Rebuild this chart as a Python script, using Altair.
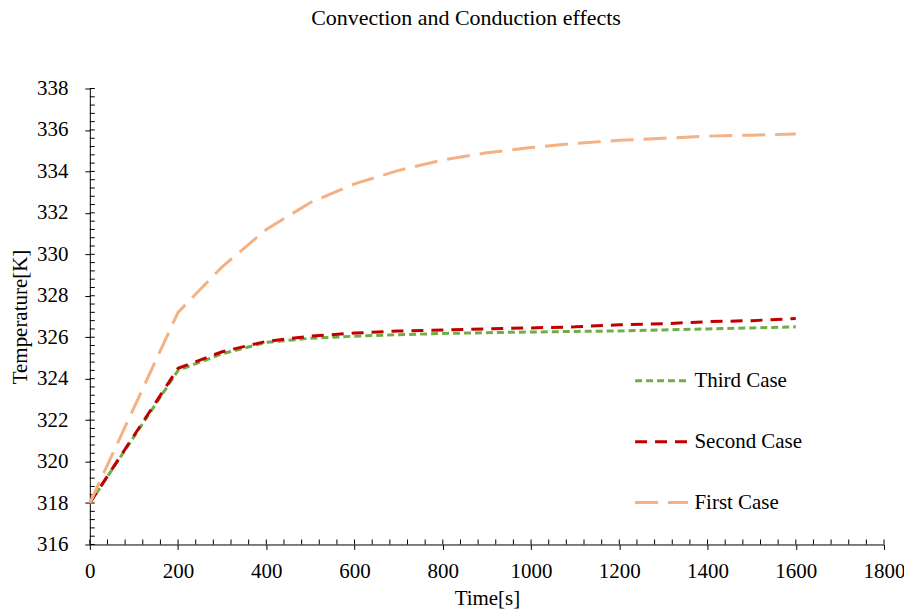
import altair as alt
import pandas as pd

times = [0, 200, 300, 400, 500, 600, 700, 800, 900, 1000, 1100, 1200, 1300, 1400, 1500, 1600]
temp_first = [318, 327.2, 329.4, 331.2, 332.5, 333.4, 334.05, 334.55, 334.9, 335.15, 335.35, 335.5, 335.6, 335.7, 335.75, 335.8]
temp_second = [318, 324.5, 325.3, 325.8, 326.05, 326.2, 326.3, 326.35, 326.4, 326.45, 326.5, 326.6, 326.65, 326.75, 326.8, 326.9]
temp_third = [318, 324.4, 325.2, 325.75, 325.95, 326.05, 326.12, 326.18, 326.22, 326.25, 326.28, 326.3, 326.35, 326.4, 326.45, 326.5]

case_names = ["Third Case", "Second Case", "First Case"]
case_colors = ["#70AD47", "#C00000", "#F4B183"]
case_dashes = [[7, 4], [12, 8], [23, 10]]

x_ticks = [0, 200, 400, 600, 800, 1000, 1200, 1400, 1600, 1800]
y_ticks = [316, 318, 320, 322, 324, 326, 328, 330, 332, 334, 336, 338]
x_minor = [i * 40 for i in range(46)]
y_minor = [316 + i * 0.4 for i in range(56)]

rows = []
for name, vals in [("Third Case", temp_third), ("Second Case", temp_second), ("First Case", temp_first)]:
    for t, v in zip(times, vals):
        rows.append({"time": t, "temp": v, "case": name})
df = pd.DataFrame(rows)

FONT = "Times New Roman, Liberation Serif, serif"

X = alt.X("time:Q",
          scale=alt.Scale(domain=[0, 1800], nice=False, zero=False),
          axis=alt.Axis(values=x_ticks, title="Time[s]", grid=False, tickSize=5,
                        labelPadding=11, titlePadding=6, format="d", labelFlush=False,
                        labelFont=FONT, titleFont=FONT, labelFontSize=21, titleFontSize=21))
Y = alt.Y("temp:Q",
          scale=alt.Scale(domain=[316, 338], nice=False, zero=False),
          axis=alt.Axis(values=y_ticks, title="Temperature[K]", grid=False, tickSize=5,
                        labelPadding=17, titlePadding=6, format="d", labelFlush=False,
                        labelFont=FONT, titleFont=FONT, labelFontSize=21, titleFontSize=21))

legend = alt.Legend(title=None, orient="none", legendX=545, legendY=265,
                    symbolType="stroke", symbolSize=2809, symbolStrokeWidth=3,
                    labelFont=FONT, labelFontSize=21, labelColor="black",
                    rowPadding=23, labelOffset=5, padding=0)

lines = alt.Chart(df).mark_line(strokeWidth=3).encode(
    x=X, y=Y,
    color=alt.Color("case:N", scale=alt.Scale(domain=case_names, range=case_colors), legend=legend),
    strokeDash=alt.StrokeDash("case:N", scale=alt.Scale(domain=case_names, range=case_dashes), legend=legend),
    order=alt.Order("time:Q"),
)

xt = pd.DataFrame({"time": x_minor})
yt = pd.DataFrame({"temp": y_minor})

xrules = alt.Chart(xt).mark_rule(color="black", strokeWidth=1).encode(
    x=X, y=alt.value(452), y2=alt.value(457))
yrules = alt.Chart(yt).mark_rule(color="black", strokeWidth=1).encode(
    y=Y, x=alt.value(0), x2=alt.value(5))

chart = alt.layer(xrules, yrules, lines).properties(
    width=796, height=457,
    title=alt.TitleParams("Convection and Conduction effects", font=FONT, fontSize=22,
                          fontWeight="normal", color="black", offset=48, dx=-21),
    autosize=alt.AutoSizeParams(type="none"),
    padding={"left": 82, "top": 80, "right": 20, "bottom": 70},
).configure_view(stroke=None).configure_axis(
    domainColor="black", tickColor="black", labelColor="black", titleColor="black",
    labelFont=FONT, titleFont=FONT, labelFontSize=21, titleFontSize=21,
    titleFontWeight="normal", domainWidth=1, tickWidth=1,
)

chart.save("out.html", embed_options={"renderer": "svg", "actions": False})
